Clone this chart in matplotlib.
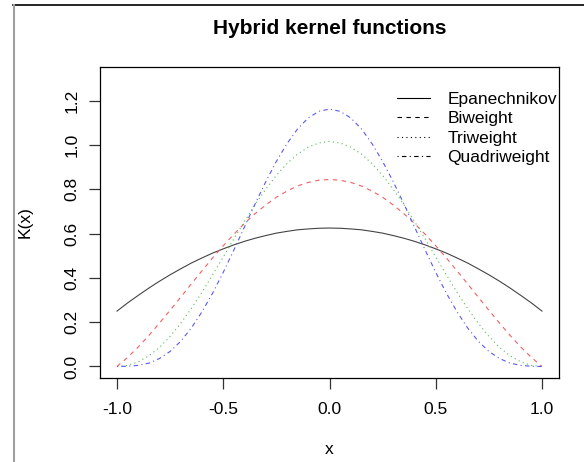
import matplotlib
matplotlib.use("Agg")
import matplotlib.pyplot as plt
from matplotlib.lines import Line2D

plt.rcParams['font.family'] = ['Liberation Sans', 'DejaVu Sans']

# x grid (values read at 0.05 steps)
x = [-1.00, -0.95, -0.90, -0.85, -0.80, -0.75, -0.70, -0.65, -0.60, -0.55, -0.50,
     -0.45, -0.40, -0.35, -0.30, -0.25, -0.20, -0.15, -0.10, -0.05, 0.00,
     0.05, 0.10, 0.15, 0.20, 0.25, 0.30, 0.35, 0.40, 0.45, 0.50,
     0.55, 0.60, 0.65, 0.70, 0.75, 0.80, 0.85, 0.90, 0.95, 1.00]

epanechnikov = [0.250, 0.287, 0.321, 0.354, 0.385, 0.414, 0.441, 0.467, 0.490, 0.512, 0.531,
                0.549, 0.565, 0.579, 0.591, 0.602, 0.610, 0.617, 0.621, 0.624, 0.625,
                0.624, 0.621, 0.617, 0.610, 0.602, 0.591, 0.579, 0.565, 0.549, 0.531,
                0.512, 0.490, 0.467, 0.441, 0.414, 0.385, 0.354, 0.321, 0.287, 0.250]

biweight = [0.000, 0.041, 0.088, 0.140, 0.196, 0.254, 0.313, 0.373, 0.432, 0.490, 0.545,
            0.597, 0.646, 0.690, 0.729, 0.764, 0.792, 0.815, 0.831, 0.841, 0.844,
            0.841, 0.831, 0.815, 0.792, 0.764, 0.729, 0.690, 0.646, 0.597, 0.545,
            0.490, 0.432, 0.373, 0.313, 0.254, 0.196, 0.140, 0.088, 0.041, 0.000]

triweight = [0.000, 0.005, 0.021, 0.048, 0.086, 0.136, 0.195, 0.262, 0.335, 0.414, 0.494,
             0.576, 0.655, 0.731, 0.800, 0.863, 0.916, 0.959, 0.990, 1.009, 1.016,
             1.009, 0.990, 0.959, 0.916, 0.863, 0.800, 0.731, 0.655, 0.576, 0.494,
             0.414, 0.335, 0.262, 0.195, 0.136, 0.086, 0.048, 0.021, 0.005, 0.000]

quadriweight = [0.000, 0.001, 0.005, 0.015, 0.036, 0.068, 0.114, 0.174, 0.247, 0.331, 0.425,
                0.526, 0.630, 0.734, 0.834, 0.926, 1.006, 1.073, 1.122, 1.152, 1.162,
                1.152, 1.122, 1.073, 1.006, 0.926, 0.834, 0.734, 0.630, 0.526, 0.425,
                0.331, 0.247, 0.174, 0.114, 0.068, 0.036, 0.015, 0.005, 0.001, 0.000]

labels = ["Epanechnikov", "Biweight", "Triweight", "Quadriweight"]
x_ticks = [-1.0, -0.5, 0.0, 0.5, 1.0]
y_ticks = [0.0, 0.2, 0.4, 0.6, 0.8, 1.0, 1.2]

W, H = 584, 462
fig = plt.figure(figsize=(W / 100, H / 100), dpi=100)
ax = fig.add_axes([100 / W, 1 - 378 / H, (559 - 100) / W, (378 - 67) / H])

styles = [
    dict(color="#444444", ls="-"),
    dict(color="#f06060", ls=(0, (4, 4))),
    dict(color="#50c050", ls=(0, (1, 3))),
    dict(color="#5a5af0", ls=(0, (1, 3, 4, 3))),
]
series = [epanechnikov, biweight, triweight, quadriweight]
for ys, st in zip(series, styles):
    ax.plot(x, ys, lw=0.8, **st)

ax.set_xlim(-1.08, 1.08)
ax.set_ylim(-0.052, 1.352)
ax.set_xticks(x_ticks)
ax.set_xticklabels([f"{v:.1f}" for v in x_ticks])
ax.set_yticks(y_ticks)
ax.set_yticklabels([f"{v:.1f}" for v in y_ticks], rotation=90, va="center")
for sp in ax.spines.values():
    sp.set_linewidth(0.9)
ax.tick_params(axis="both", length=8, width=0.9, labelsize=12.5, color="#333333")
ax.tick_params(axis="x", pad=9)
ax.tick_params(axis="y", pad=7)

fig.text(329.5 / W, 1 - 29 / H, "Hybrid kernel functions", ha="center", va="center",
         fontsize=15, fontweight="bold")
fig.text(329.5 / W, 1 - 449 / H, "x", ha="center", va="center", fontsize=12.5)
fig.text(25 / W, 1 - 222 / H, "K(x)", ha="center", va="center", fontsize=12.5, rotation=90)

handles = [Line2D([], [], color="black", lw=0.8, ls=st["ls"]) for st in styles]
ax.legend(handles, labels, loc="upper left", bbox_to_anchor=(397 / W, 1 - 92 / H),
          bbox_transform=fig.transFigure, frameon=False, fontsize=12.5,
          handlelength=1.9, handletextpad=1.0, labelspacing=0.24, borderpad=0,
          borderaxespad=0)

# screenshot frame lines
fig.add_artist(Line2D([12.5 / W, 1], [1 - 5.3 / H, 1 - 5.3 / H], color="black", lw=1.2,
                      transform=fig.transFigure))
fig.add_artist(Line2D([14 / W, 14 / W], [0, 1 - 5.3 / H], color="#a0a0a0", lw=1.5,
                      transform=fig.transFigure))

fig.savefig("out.png", dpi=100)
